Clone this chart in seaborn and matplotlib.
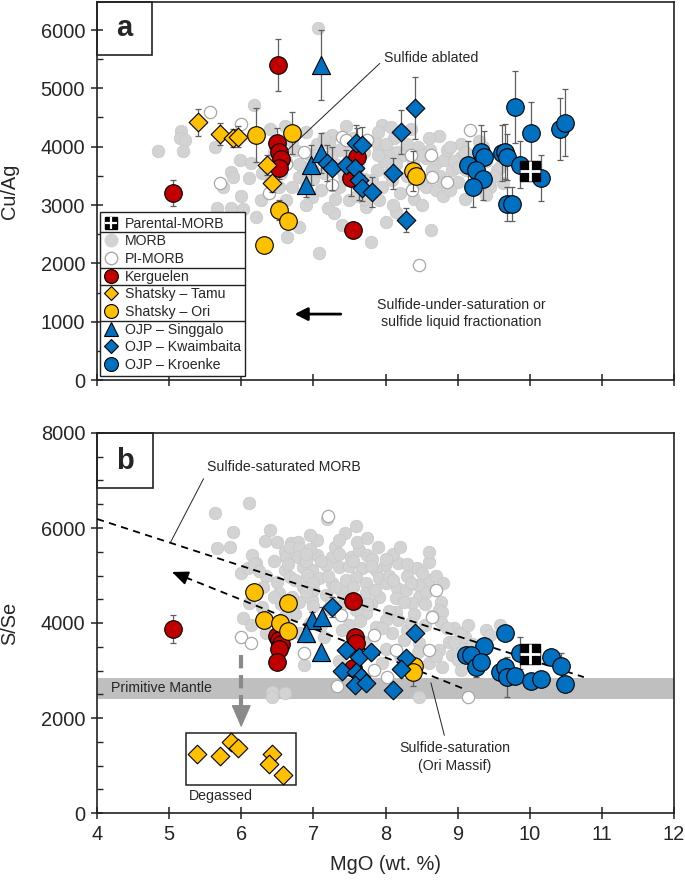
import matplotlib
matplotlib.use("Agg")
import matplotlib.pyplot as plt
import seaborn as sns
from matplotlib.lines import Line2D
from matplotlib.patches import Rectangle

sns.set_style("ticks")
plt.rcParams["font.family"] = ["Liberation Sans", "DejaVu Sans"]

RED = "#C00000"
YEL = "#FFC000"
BLU = "#0070C0"
GREY = "#D3D3D3"

# ---------------- panel a : Cu/Ag vs MgO ----------------
morb_a_mgo = [4.84, 5.16, 5.15, 5.22, 5.19, 5.63, 6.18, 5.98, 5.86, 5.88, 6.11, 5.67, 5.86, 6.03,
              6.28, 6.64, 6.14, 6.29, 7.07, 7.95, 8.07, 8.74, 9.04, 7.26, 7.22, 7.49, 7.91, 8.05,
              8.16, 8.56, 8.70, 8.81, 8.92, 7.88, 7.81, 7.95, 8.09, 8.56, 8.70, 7.36, 7.49, 7.73,
              7.91, 7.29, 8.14, 8.63, 7.80, 7.08, 6.80, 6.98, 6.80, 6.62, 6.53, 6.45, 6.62, 6.75,
              6.85, 6.95, 7.00, 7.05, 7.15, 7.30, 7.35, 7.42, 7.50, 7.55, 7.62, 7.70, 7.75, 7.85,
              7.98, 8.05, 8.12, 8.25, 8.30, 8.38, 8.45, 8.50, 8.62, 8.75, 8.85, 8.95, 9.00, 9.05,
              9.12, 9.20, 9.25, 9.40, 9.55, 9.45, 6.55, 6.70, 6.90, 7.10, 7.20, 7.60, 8.20, 8.40,
              8.80, 9.10, 6.40, 6.90, 7.45, 8.35, 9.30, 6.00, 5.75, 6.20, 7.40, 8.00, 9.40, 9.43,
              9.63, 9.59, 6.50, 6.70, 6.80, 7.00, 7.15, 7.25, 7.40, 7.60, 7.70, 7.90, 8.00, 8.15,
              8.30, 8.40, 8.50, 8.65, 8.80, 8.90, 9.00, 9.10, 9.30, 9.50, 9.35, 6.90, 7.30, 7.70,
              8.10, 8.50, 8.90, 6.40, 6.60, 7.90, 8.60, 9.20]
morb_a_cuag = [3930, 4270, 4150, 4110, 3930, 3990, 4710, 3770, 3570, 3480, 3460, 2950, 2950, 2930,
               3090, 2450, 3720, 3550, 6030, 4370, 4340, 4180, 3820, 4200, 4060, 3990, 3980, 3910,
               3910, 3800, 3720, 3770, 3600, 3600, 3430, 3310, 3430, 3310, 3260, 3310, 3090, 2970,
               3090, 2860, 2880, 2570, 2370, 2180, 2620, 3140, 3480, 3090, 3310, 3900, 3750, 3950,
               3650, 3850, 3450, 4050, 3550, 3700, 3950, 3500, 3800, 4150, 3650, 3900, 3300, 4100,
               3750, 3550, 4150, 3850, 3500, 3700, 4000, 3450, 3950, 3500, 3950, 3750, 3400, 4050,
               3600, 3850, 3500, 3750, 3600, 3300, 3550, 3300, 3000, 3250, 2950, 3150, 3200, 3100,
               3150, 3100, 4300, 4250, 4350, 4300, 4100, 3150, 3300, 2800, 2650, 2700, 3170, 3380,
               3380, 3650, 4000, 4100, 3700, 3600, 4150, 3850, 3600, 3950, 3450, 3850, 4050, 3700,
               4050, 3350, 3850, 3600, 3400, 4000, 3650, 3900, 3650, 3500, 4000, 3400, 3100, 3100,
               3000, 3000, 3250, 3400, 4350, 4250, 4150, 3300]

pi_a_mgo = [5.56, 5.99, 5.71, 6.39, 6.87, 7.40, 7.45, 7.74, 8.37, 8.64, 8.85, 9.17, 7.26, 8.35,
            8.63, 8.46, 6.62]
pi_a_cuag = [4590, 4390, 3370, 3200, 3910, 4170, 4110, 4110, 3260, 3480, 3390, 4290, 3340, 3860,
             3860, 1970, 3700]

ker_a_mgo = [5.06, 6.51, 6.50, 6.53, 6.55, 6.52, 7.60, 7.52, 7.55]
ker_a_cuag = [3210, 5400, 4060, 3900, 3780, 3640, 3820, 3460, 2570]
ker_a_err = [220, 450, 260, 200, 200, 200, 500, 300, 140]

tamu_a_mgo = [5.40, 5.71, 5.88, 5.96, 6.36, 6.43]
tamu_a_cuag = [4420, 4210, 4150, 4170, 3690, 3370]
tamu_a_err = [230, 190, 150, 180, 170, 150]

ori_a_mgo = [6.20, 6.70, 6.53, 6.65, 6.32, 8.38, 8.42]
ori_a_cuag = [4200, 4230, 2910, 2730, 2310, 3580, 3500]
ori_a_err = [460, 360, 170, 0, 0, 340, 0]

sing_a_mgo = [7.11, 6.97, 7.11, 6.90]
sing_a_cuag = [5400, 3690, 3890, 3340]
sing_a_err = [600, 340, 340, 200]

kwai_a_mgo = [8.41, 8.21, 8.10, 8.28, 7.59, 7.67, 7.19, 7.26, 7.45, 7.58, 7.63, 7.67, 7.81]
kwai_a_cuag = [4660, 4250, 3540, 2740, 4060, 4030, 3720, 3630, 3690, 3630, 3430, 3290, 3220]
kwai_a_err = [530, 370, 260, 200, 310, 300, 310, 370, 250, 300, 340, 230, 260]

kroe_a_mgo = [9.79, 10.02, 10.42, 10.49, 9.32, 9.36, 9.15, 9.26, 9.35, 9.22, 9.61, 9.66, 9.68,
              9.87, 10.15, 9.68, 9.76]
kroe_a_cuag = [4680, 4230, 4300, 4410, 3910, 3820, 3690, 3600, 3440, 3310, 3890, 3910, 3820,
               3690, 3460, 3020, 3020]
kroe_a_err = [620, 540, 530, 570, 460, 450, 400, 350, 350, 340, 480, 470, 400, 400, 400, 290, 290]

parent_mgo = [10.0]
parent_cuag = [3580]
parent_sse = [3350]

# ---------------- panel b : S/Se vs MgO ----------------
morb_b_mgo = [5.63, 6.11, 5.88, 5.67, 5.85, 6.33, 6.15, 6.21, 6.00, 6.10, 6.60, 6.62, 6.60, 6.50,
              6.11, 6.03, 6.69, 6.14, 6.29, 6.53, 6.18, 6.42, 6.43, 6.60, 7.19, 7.44, 7.59, 6.78,
              6.67, 6.80, 6.78, 7.05, 7.26, 7.52, 7.63, 7.74, 7.81, 7.99, 8.17, 8.43, 8.60, 6.85,
              6.98, 7.18, 7.36, 7.49, 7.67, 7.87, 6.67, 6.91, 7.08, 7.26, 7.45, 7.59, 7.73, 7.91,
              8.00, 8.16, 8.28, 8.46, 8.56, 8.77, 8.74, 8.37, 8.14, 7.91, 7.73, 7.40, 7.18, 6.98,
              6.80, 6.85, 8.78, 8.77, 8.14, 8.18, 8.00, 7.73, 7.59, 7.42, 7.87, 8.09, 8.46, 8.74,
              8.88, 8.92, 9.01, 8.78, 6.87, 8.46, 9.39, 9.45, 9.59, 9.04, 9.04, 8.95, 9.10, 7.05,
              6.40, 6.35, 6.90, 7.30, 7.90, 8.30, 8.60, 8.40, 7.20, 6.95, 7.50, 8.30, 8.55, 6.80,
              7.15, 7.70, 8.00, 8.20, 8.60, 7.95, 7.35, 6.35, 6.45, 6.95, 7.60, 8.10, 8.05, 7.20,
              6.55, 6.30, 6.75, 7.00, 7.80, 8.25, 8.45, 9.20, 9.30, 6.65, 6.90, 7.10, 7.35, 7.55,
              7.80, 8.00, 8.30, 8.50, 8.70, 6.75, 7.00, 7.30, 7.55, 7.85, 8.10, 8.35, 8.55, 8.65,
              8.85, 9.05, 9.15, 8.95, 8.35, 8.05, 7.75, 7.50, 7.25, 7.00, 6.70, 6.90, 7.65, 7.95,
              8.25, 8.45, 8.70, 7.10, 7.40, 6.60, 6.45, 6.25, 6.50, 6.95, 7.35, 7.75, 8.20, 8.60,
              8.80]
morb_b_sse = [6310, 6530, 5920, 5580, 5600, 5730, 5430, 5260, 5050, 5160, 5490, 5390, 5120, 4860,
              4420, 4100, 5680, 3960, 4340, 4630, 5240, 2550, 2440, 2530, 6190, 5890, 6040, 5700,
              5600, 5580, 5390, 5430, 5390, 5390, 5540, 5430, 5350, 5220, 5260, 5160, 5280, 5180,
              5120, 5220, 5180, 5200, 5160, 5120, 4970, 5010, 4950, 4840, 4900, 4970, 4840, 4950,
              4840, 4740, 4690, 4550, 4650, 4440, 4270, 4420, 4530, 4550, 4630, 4650, 4590, 4480,
              4440, 4760, 4230, 4020, 4230, 4060, 4060, 4210, 4270, 4420, 3920, 3790, 3580, 3430,
              3600, 3330, 3220, 3070, 3120, 2440, 3850, 3750, 3960, 3540, 3010, 3900, 3700, 5750,
              5950, 5000, 5300, 5600, 5600, 5000, 4900, 4200, 4300, 4000, 3950, 3850, 3950, 3800,
              3700, 3600, 3450, 3300, 3150, 3150, 3200, 3800, 5300, 5550, 5700, 5450, 5000, 5000,
              4400, 4750, 4200, 4700, 4400, 4450, 4800, 3550, 3250, 5250, 5450, 5300, 5450, 5300,
              5200, 5350, 5250, 5050, 5000, 4900, 4850, 4750, 4750, 4700, 4900, 4850, 4400, 4150,
              3900, 3800, 3950, 3600, 4000, 4250, 4400, 4500, 4450, 4350, 4550, 4650, 4050, 3900,
              3650, 3400, 3300, 3950, 3850, 4150, 4550, 5100, 5700, 5850, 5750, 5800, 5600, 5500,
              4850]

pi_b_mgo = [7.20, 8.70, 8.64, 8.60, 8.14, 8.02, 7.84, 7.33, 6.87, 9.15, 7.84, 7.38, 5.99, 6.14]
pi_b_sse = [6250, 4690, 4130, 3430, 3430, 2860, 3010, 2670, 3370, 2440, 3750, 4170, 3700, 3580]

ker_b_mgo = [5.06, 6.50, 6.53, 6.55, 6.52, 6.50, 7.55, 7.58, 7.59, 7.55]
ker_b_sse = [3870, 3730, 3640, 3550, 3450, 3180, 4460, 3700, 3580, 3050]
ker_b_err = [300, 0, 0, 0, 0, 0, 0, 0, 0, 0]

ori_b_mgo = [6.18, 6.31, 6.54, 6.65, 6.65, 8.40, 8.38]
ori_b_sse = [4650, 4060, 4000, 4420, 3830, 3090, 2970]
ori_b_err = [0, 0, 0, 0, 0, 0, 300]

sing_b_mgo = [6.98, 7.12, 6.90, 7.11]
sing_b_sse = [4060, 4130, 3790, 3390]
sing_b_err = [170, 200, 200, 0]

kwai_b_mgo = [7.26, 8.41, 7.45, 7.63, 7.80, 7.40, 7.59, 7.66, 7.58, 7.73, 8.28, 8.21, 8.10]
kwai_b_sse = [4340, 3790, 3430, 3280, 3390, 2990, 2970, 2860, 2690, 2740, 3260, 3030, 2590]
kwai_b_err = [210, 0, 0, 0, 0, 0, 0, 0, 0, 0, 0, 0, 0]

kroe_b_mgo = [9.66, 9.37, 9.12, 9.19, 9.26, 9.32, 9.59, 9.66, 9.68, 9.80, 9.87, 10.02, 10.16,
              10.30, 10.44, 10.49]
kroe_b_sse = [3790, 3520, 3330, 3330, 3070, 3180, 2970, 3070, 2860, 2880, 3370, 2780, 2820,
              3280, 3090, 2720]
kroe_b_err = [0, 0, 0, 0, 200, 0, 0, 0, 420, 0, 340, 0, 0, 0, 270, 0]

degas_mgo = [5.38, 5.71, 5.86, 5.96, 6.42, 6.38, 6.58]
degas_sse = [1240, 1200, 1495, 1370, 1240, 1030, 800]

# reference lines / fields
morb_sat_mgo = [4.0, 10.75]
morb_sat_sse = [6190, 2860]
ori_sat_mgo = [9.06, 5.04]
ori_sat_sse = [2630, 5074]
prim_mantle = (2400, 2850)


def dots(ax, x, y, marker, s, face, edge="black", lw=0.8, z=4):
    sns.scatterplot(x=x, y=y, ax=ax, marker=marker, s=s, color=face,
                    edgecolor=edge, linewidth=lw, zorder=z, legend=False)


def bars(ax, x, y, err):
    keep = [i for i, e in enumerate(err) if e > 0]
    ax.errorbar([x[i] for i in keep], [y[i] for i in keep], yerr=[err[i] for i in keep],
                fmt="none", ecolor="#5f5f5f", elinewidth=0.9, capsize=2.5, capthick=0.9, zorder=3)


def parental(ax, x, y):
    ax.scatter(x, y, marker="s", s=200, color="black", zorder=6)
    ax.scatter(x, y, marker="+", s=200, color="white", linewidths=2.0, zorder=7)


def panel_box(ax, letter, w, h):
    ax.add_patch(Rectangle((0, 1 - h), w, h, transform=ax.transAxes, fill=False,
                           edgecolor="#222222", lw=1.2, zorder=10, clip_on=False))
    ax.text(w / 2, 1 - h / 2, letter, transform=ax.transAxes, ha="center", va="center",
            fontsize=21, fontweight="bold", zorder=11)


def style(ax):
    for sp in ax.spines.values():
        sp.set_linewidth(1.2)
        sp.set_color("#222222")
    ax.set_xlim(4, 12)
    ax.set_xticks(range(4, 13))
    ax.tick_params(axis="both", which="major", direction="inout", length=9, width=1.1,
                   labelsize=14.4, pad=4, color="#222222")
    ax.tick_params(axis="y", which="minor", direction="in", length=4, width=1.0)


fig = plt.figure(figsize=(6.85, 8.8), dpi=100)
ax_a = fig.add_axes([97 / 685, 1 - 380 / 880, 577 / 685, 378 / 880])
ax_b = fig.add_axes([97 / 685, 1 - 813 / 880, 577 / 685, 380 / 880])

# ---------------- draw panel a ----------------
dots(ax_a, morb_a_mgo, morb_a_cuag, "o", 82, GREY, edge="#C8C8C8", lw=0.5, z=2)
dots(ax_a, pi_a_mgo, pi_a_cuag, "o", 78, "white", edge="#A8A8A8", lw=0.9, z=2)
for mx, my, me in [(ker_a_mgo, ker_a_cuag, ker_a_err), (tamu_a_mgo, tamu_a_cuag, tamu_a_err),
                   (ori_a_mgo, ori_a_cuag, ori_a_err), (sing_a_mgo, sing_a_cuag, sing_a_err),
                   (kwai_a_mgo, kwai_a_cuag, kwai_a_err), (kroe_a_mgo, kroe_a_cuag, kroe_a_err)]:
    bars(ax_a, mx, my, me)
dots(ax_a, ker_a_mgo, ker_a_cuag, "o", 160, RED)
dots(ax_a, tamu_a_mgo, tamu_a_cuag, "D", 90, YEL)
dots(ax_a, ori_a_mgo, ori_a_cuag, "o", 160, YEL)
dots(ax_a, sing_a_mgo, sing_a_cuag, "^", 170, BLU)
dots(ax_a, kwai_a_mgo, kwai_a_cuag, "D", 90, BLU)
dots(ax_a, kroe_a_mgo, kroe_a_cuag, "o", 160, BLU)
parental(ax_a, parent_mgo, parent_cuag)

style(ax_a)
ax_a.set_ylim(0, 6480)
ax_a.set_yticks(range(0, 6001, 1000))
ax_a.set_yticks(range(500, 6001, 1000), minor=True)
ax_a.tick_params(axis="x", labelbottom=False)
ax_a.set_xlabel("")
ax_a.set_ylabel("Cu/Ag", fontsize=14.4)
ax_a.yaxis.set_label_coords(-0.135, 0.5)
panel_box(ax_a, "a", 0.095, 0.14)

ax_a.annotate("Sulfide ablated", xy=(6.64, 3940), xytext=(7.98, 5520), fontsize=10.2,
              va="center", ha="left",
              arrowprops=dict(arrowstyle="-", lw=0.7, color="#222222", shrinkA=1, shrinkB=0,
                              relpos=(0, 0.4)))
ax_a.annotate("", xy=(6.74, 1130), xytext=(7.38, 1130),
              arrowprops=dict(arrowstyle="-|>,head_length=0.55,head_width=0.28", lw=2.0,
                              color="black", mutation_scale=14, shrinkA=0, shrinkB=0))
ax_a.text(9.05, 1140, "Sulfide-under-saturation or\nsulfide liquid fractionation",
          fontsize=10.2, ha="center", va="center", linespacing=1.3)

handles = [
    (Line2D([], [], marker="s", color="black", ms=9, ls=""),
     Line2D([], [], marker="+", color="white", ms=9, mew=1.6, ls="")),
    Line2D([], [], marker="o", mfc=GREY, mec=GREY, ms=9, ls=""),
    Line2D([], [], marker="o", mfc="white", mec="#A8A8A8", ms=9, ls=""),
    Line2D([], [], marker="o", mfc=RED, mec="black", mew=0.8, ms=10, ls=""),
    Line2D([], [], marker="D", mfc=YEL, mec="black", mew=0.8, ms=7.5, ls=""),
    Line2D([], [], marker="o", mfc=YEL, mec="black", mew=0.8, ms=10, ls=""),
    Line2D([], [], marker="^", mfc=BLU, mec="black", mew=0.8, ms=10, ls=""),
    Line2D([], [], marker="D", mfc=BLU, mec="black", mew=0.8, ms=7.5, ls=""),
    Line2D([], [], marker="o", mfc=BLU, mec="black", mew=0.8, ms=10, ls=""),
]
labels = ["Parental-MORB", "MORB", "PI-MORB", "Kerguelen", "Shatsky \u2013 Tamu",
          "Shatsky \u2013 Ori", "OJP \u2013 Singgalo", "OJP \u2013 Kwaimbaita", "OJP \u2013 Kroenke"]
leg = ax_a.legend(handles, labels, loc="lower left", bbox_to_anchor=(0.005, 0.01),
                  borderaxespad=0, fontsize=10.2, handlelength=1.0, handletextpad=0.45,
                  labelspacing=0.26, borderpad=0.3, fancybox=False, framealpha=1,
                  edgecolor="#222222")
leg.get_frame().set_linewidth(1.0)
leg.set_zorder(12)

# ---------------- draw panel b ----------------
ax_b.axhspan(*prim_mantle, color="#BFBFBF", lw=0, zorder=0)
dots(ax_b, morb_b_mgo, morb_b_sse, "o", 82, GREY, edge="#C8C8C8", lw=0.5, z=2)
dots(ax_b, pi_b_mgo, pi_b_sse, "o", 78, "white", edge="#A8A8A8", lw=0.9, z=2)
ax_b.plot(morb_sat_mgo, morb_sat_sse, color="black", lw=1.3, dashes=(4, 3), zorder=3)
ax_b.plot(ori_sat_mgo, ori_sat_sse, color="black", lw=1.3, dashes=(4, 3), zorder=3)
tip = (ori_sat_mgo[1], ori_sat_sse[1])
back = (ori_sat_mgo[1] + 0.06 * (ori_sat_mgo[0] - ori_sat_mgo[1]),
        ori_sat_sse[1] + 0.06 * (ori_sat_sse[0] - ori_sat_sse[1]))
ax_b.annotate("", xy=tip, xytext=back,
              arrowprops=dict(arrowstyle="-|>,head_length=0.7,head_width=0.3", lw=1.3,
                              color="black", mutation_scale=14, shrinkA=0, shrinkB=0))
for mx, my, me in [(ker_b_mgo, ker_b_sse, ker_b_err), (ori_b_mgo, ori_b_sse, ori_b_err),
                   (sing_b_mgo, sing_b_sse, sing_b_err), (kwai_b_mgo, kwai_b_sse, kwai_b_err),
                   (kroe_b_mgo, kroe_b_sse, kroe_b_err)]:
    bars(ax_b, mx, my, me)
dots(ax_b, ker_b_mgo, ker_b_sse, "o", 160, RED)
dots(ax_b, ori_b_mgo, ori_b_sse, "o", 160, YEL)
dots(ax_b, sing_b_mgo, sing_b_sse, "^", 170, BLU)
dots(ax_b, kwai_b_mgo, kwai_b_sse, "D", 90, BLU)
dots(ax_b, kroe_b_mgo, kroe_b_sse, "o", 160, BLU)
dots(ax_b, degas_mgo, degas_sse, "D", 90, YEL)
parental(ax_b, parent_mgo, parent_sse)

# degassing arrow and box
ax_b.plot([6.0, 6.0], [3330, 2080], color="#8A8A8A", lw=3.0, dashes=(3.2, 1.6), zorder=3)
ax_b.annotate("", xy=(6.0, 1800), xytext=(6.0, 2100),
              arrowprops=dict(arrowstyle="-|>,head_length=0.8,head_width=0.35", lw=1,
                              color="#8A8A8A", mutation_scale=18, shrinkA=0, shrinkB=0))
ax_b.add_patch(Rectangle((5.24, 600), 1.52, 1080, fill=False, edgecolor="#222222", lw=1.1,
                         zorder=3))
ax_b.text(5.28, 360, "Degassed", fontsize=10.2, ha="left", va="center")
ax_b.text(4.19, 2630, "Primitive Mantle", fontsize=10.2, ha="left", va="center")

ax_b.annotate("Sulfide-saturated MORB", xy=(5.02, 5700), xytext=(5.52, 7280), fontsize=10.2,
              va="center", ha="left",
              arrowprops=dict(arrowstyle="-", lw=0.7, color="#222222", shrinkA=1, shrinkB=0,
                              relpos=(0, 0.1)))
ax_b.annotate("Sulfide-saturation\n(Ori Massif)", xy=(8.63, 2740), xytext=(8.96, 1180),
              fontsize=10.2, va="center", ha="center", linespacing=1.3,
              arrowprops=dict(arrowstyle="-", lw=0.7, color="#222222", shrinkA=2, shrinkB=0,
                              relpos=(0.42, 1)))

style(ax_b)
ax_b.set_ylim(0, 8000)
ax_b.set_yticks(range(0, 8001, 2000))
ax_b.set_yticks(range(500, 8000, 500), minor=True)
ax_b.set_xlabel("MgO (wt. %)", fontsize=14.4, labelpad=8)
ax_b.set_ylabel("S/Se", fontsize=14.4)
ax_b.yaxis.set_label_coords(-0.135, 0.5)
panel_box(ax_b, "b", 0.097, 0.145)

# separators inside the legend between sample groups
fig.canvas.draw()
rend = fig.canvas.get_renderer()
frame = leg.get_frame().get_window_extent(rend)
txts = [t.get_window_extent(rend) for t in leg.get_texts()]
inv = fig.transFigure.inverted()
for i in [0, 2, 3, 5]:
    ymid = 0.5 * (txts[i].y0 + txts[i + 1].y1)
    (fx0, fy), (fx1, _) = inv.transform([(frame.x0, ymid), (frame.x1, ymid)])
    fig.add_artist(Line2D([fx0, fx1], [fy, fy], transform=fig.transFigure, color="#222222",
                          lw=1.0, zorder=13))

fig.savefig("out.png", dpi=100)
